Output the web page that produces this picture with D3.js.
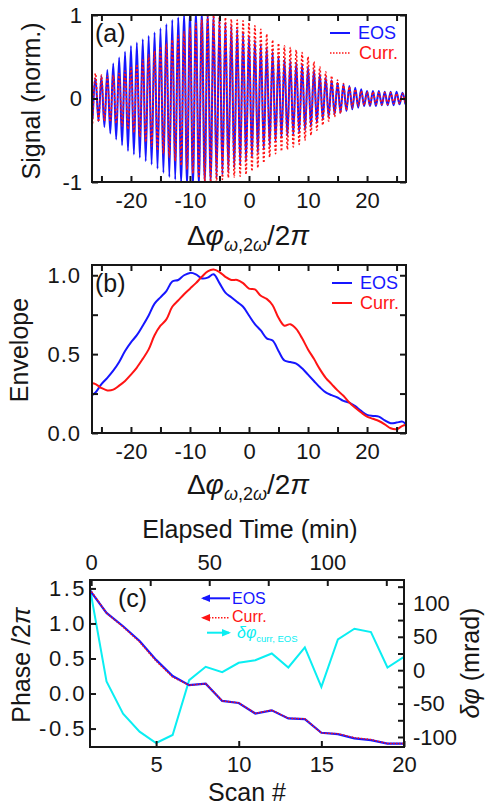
<!DOCTYPE html>
<html>
<head>
<meta charset="utf-8">
<script src="https://cdn.jsdelivr.net/npm/d3@7"></script>
<style>
  html, body { margin: 0; padding: 0; background: #fff; }
  svg { display: block; }
</style>
</head>
<body>
<svg id="fig" width="486" height="811"></svg>
<script>
// ---------- data ----------
// fringe index (Δφ_{ω,2ω}/2π) at which amplitudes are sampled
const fringeX = [-26,-25,-24,-23,-22,-21,-20,-19,-18,-17,-16,-15,-14,-13,-12,-11,-10,
  -9,-8,-7,-6,-5,-4,-3,-2,-1,0,1,2,3,4,5,6,7,8,9,10,11,12,13,14,15,16,17,18,19,20,21,22,23,24,25,26];

// (a) fringe peak amplitudes, normalised signal
const ampEOS = [0.24,0.27,0.34,0.42,0.49,0.56,0.63,0.67,0.71,0.75,0.79,0.84,0.89,0.94,0.97,1.00,1.03,
  1.04,1.03,1.00,0.99,0.95,0.91,0.87,0.83,0.79,0.75,
  0.70,0.65,0.61,0.56,0.51,0.47,0.45,0.43,0.41,0.38,0.34,0.29,0.25,0.22,0.19,0.17,0.15,0.13,0.11,0.09,0.09,0.09,0.08,0.08,0.08,0.07];
const ampCurr = [0.30,0.28,0.27,0.28,0.30,0.33,0.37,0.41,0.46,0.52,0.57,0.62,0.66,0.70,0.75,0.80,0.85,
  0.90,0.95,0.99,1.00,1.00,0.97,0.95,0.94,0.93,0.91,
  0.87,0.83,0.77,0.70,0.66,0.63,0.61,0.58,0.55,0.50,0.44,0.38,0.32,0.27,0.22,0.18,0.14,0.11,0.09,0.08,0.08,0.07,0.07,0.07,0.06,0.06];

// (b) envelopes, sampled at the plot edges and at each fringe
const envX = [-26.6].concat(fringeX, [26.6]);
const envEOS = [0.24,0.257,0.31,0.35,0.395,0.45,0.52,0.575,0.62,0.68,0.745,0.82,0.86,0.90,0.96,0.97,1.0,1.015,
  1.006,0.98,0.985,1.006,0.95,0.89,0.86,0.83,0.80,0.745,
  0.69,0.65,0.60,0.586,0.52,0.46,0.45,0.44,0.41,0.37,0.33,0.29,0.257,0.24,0.225,0.204,0.193,0.17,0.14,0.115,0.108,0.104,0.08,0.062,0.066,0.072,0.055];
const envCurr = [0.315,0.31,0.285,0.27,0.275,0.30,0.33,0.37,0.415,0.47,0.53,0.62,0.68,0.72,0.80,0.84,0.88,0.915,
  0.95,0.99,1.025,1.036,1.02,0.99,0.97,0.97,0.95,0.915,
  0.91,0.87,0.85,0.81,0.73,0.68,0.69,0.66,0.60,0.53,0.47,0.405,0.35,0.31,0.27,0.236,0.193,0.16,0.13,0.104,0.09,0.076,0.055,0.03,0.024,0.045,0.05];

// (c) scan-by-scan phases and their difference
const scans = [1,2,3,4,5,6,7,8,9,10,11,12,13,14,15,16,17,18,19,20];
const phaseEOS  = [1.47,1.15,0.96,0.75,0.48,0.25,0.12,0.14,-0.105,-0.135,-0.285,-0.24,-0.355,-0.365,-0.56,-0.58,-0.64,-0.665,-0.715,-0.715];
const phaseCurr = [1.49,1.147,0.95,0.735,0.463,0.235,0.118,0.141,-0.105,-0.133,-0.283,-0.236,-0.354,-0.36,-0.564,-0.573,-0.63,-0.656,-0.714,-0.712];
const dPhi = [122,-17,-65,-92,-109,-97,-15,5,-3,11,15,25,4,34,-25,46,62,57,4,20];

// tick values
const fringeTicks = [-25,-20,-15,-10,-5,0,5,10,15,20,25];
const signalTicks = [-1,0,1];
const envTicks = [0,0.25,0.5,0.75,1.0];
const scanTicks = [5,10,15,20];
const timeTicks = [0,25,50,75,100,125];
const phaseTicks = [-0.5,0,0.5,1.0,1.5];
const mradTicks = [-100,-75,-50,-25,0,25,50,75,100,125];

// ---------- styling ----------
const FONT = "'Liberation Sans', Arial, Helvetica, sans-serif";
const INK = "#161616";
const BLUE = "#1616ff", RED = "#ff1414", CYAN = "#0aeef2";
const TICK_FS = 22, TITLE_FS = 25;

const svg = d3.select("#fig").attr("font-family", FONT);

const PA = {l: 92, r: 406, t: 15, b: 182};
const PB = {l: 92, r: 406, t: 265, b: 433};
const PC = {l: 90, r: 404, t: 580, b: 747};

const xA = d3.scaleLinear([-26.6, 26.6], [PA.l, PA.r]);
const yA = d3.scaleLinear([-1, 1], [PA.b, PA.t]);
const xB = d3.scaleLinear([-26.6, 26.6], [PB.l, PB.r]);
const yB = d3.scaleLinear([0, 1.065], [PB.b, PB.t]);
const xC = d3.scaleLinear([1, 20], [PC.l, PC.r]);
const xCtop = d3.scaleLinear([-0.5, 132.5], [PC.l, PC.r]);
const yC = d3.scaleLinear([-0.763, 1.62], [PC.b, PC.t]);
const yCr = d3.scaleLinear([-115, 135], [PC.b, PC.t]);

const fmtInt = d => String(d);
const fmtDec = d => d3.format(".1f")(d).replace("−", "-");

function styleAxis(g, fs, spacing) {
  g.select(".domain").remove();
  g.selectAll(".tick line").attr("stroke", INK).attr("stroke-width", 2);
  g.selectAll(".tick text").attr("fill", INK).attr("font-size", fs).attr("font-family", FONT)
    .attr("letter-spacing", spacing || null);
}

function clip(id, P) {
  svg.append("clipPath").attr("id", id).append("rect")
    .attr("x", P.l).attr("y", P.t).attr("width", P.r - P.l).attr("height", P.b - P.t);
}

function frame(P) {
  svg.append("rect").attr("x", P.l).attr("y", P.t).attr("width", P.r - P.l).attr("height", P.b - P.t)
    .attr("fill", "none").attr("stroke", INK).attr("stroke-width", 2);
}

function fringeAxes(P, x, yAxis, yTicks, yFmt, yPad, ySpacing) {
  svg.append("g").attr("transform", `translate(0,${P.b})`)
    .call(d3.axisBottom(x).tickValues(fringeTicks).tickSize(-6).tickPadding(10)
      .tickFormat(d => d % 10 === 0 ? fmtInt(d) : ""))
    .call(g => styleAxis(g, TICK_FS));
  svg.append("g").attr("transform", `translate(0,${P.t})`)
    .call(d3.axisTop(x).tickValues(fringeTicks).tickSize(-6).tickFormat(""))
    .call(g => styleAxis(g, TICK_FS));
  svg.append("g").attr("transform", `translate(${P.l},0)`)
    .call(d3.axisLeft(yAxis).tickValues(yTicks).tickSize(-6).tickPadding(yPad).tickFormat(yFmt))
    .call(g => styleAxis(g, TICK_FS, ySpacing));
  svg.append("g").attr("transform", `translate(${P.r},0)`)
    .call(d3.axisRight(yAxis).tickValues(yTicks).tickSize(-6).tickFormat(""))
    .call(g => styleAxis(g, TICK_FS));
}

// Δφ_{ω,2ω}/2π axis title
function deltaPhiTitle(cx, baseline) {
  const t = svg.append("text").attr("x", cx).attr("y", baseline).attr("text-anchor", "middle")
    .attr("font-size", 28).attr("fill", INK);
  t.append("tspan").text("Δ");
  t.append("tspan").attr("font-style", "italic").text("φ");
  t.append("tspan").attr("font-size", 18).attr("dy", 6).attr("font-style", "italic").text("ω");
  t.append("tspan").attr("font-size", 18).text(",2");
  t.append("tspan").attr("font-size", 18).attr("font-style", "italic").text("ω");
  t.append("tspan").attr("dy", -6).text("/2");
  t.append("tspan").attr("font-style", "italic").text("π");
}

function vTitle(x, cy, parts) {
  const t = svg.append("text").attr("transform", `translate(${x},${cy}) rotate(-90)`)
    .attr("text-anchor", "middle").attr("font-size", TITLE_FS).attr("fill", INK);
  parts.forEach(p => t.append("tspan").attr("font-style", p.italic ? "italic" : null).text(p.s));
}

// ---------- panel (a): fringe signals ----------
clip("clipA", PA);
function fringePoints(amps) {
  const pts = [];
  fringeX.forEach((x, i) => {
    pts.push([x - 0.5, -amps[i]]);
    pts.push([x, amps[i]]);
  });
  pts.push([fringeX[fringeX.length - 1] + 0.5, -amps[amps.length - 1]]);
  return pts;
}
const lineA = d3.line().x(d => xA(d[0])).y(d => yA(d[1])).curve(d3.curveMonotoneX);
const gA = svg.append("g").attr("clip-path", "url(#clipA)");
gA.append("path").attr("d", lineA(fringePoints(ampEOS)))
  .attr("fill", "none").attr("stroke", BLUE).attr("stroke-width", 2);
gA.append("path").attr("d", lineA(fringePoints(ampCurr)))
  .attr("fill", "none").attr("stroke", RED).attr("stroke-width", 1.6).attr("stroke-dasharray", "2,2");

fringeAxes(PA, xA, yA, signalTicks, fmtInt, 10);
frame(PA);
svg.append("text").attr("x", 95).attr("y", 42).attr("font-size", 25).attr("fill", INK).text("(a)");
// legend (a)
svg.append("line").attr("x1", 330).attr("x2", 350).attr("y1", 33).attr("y2", 33)
  .attr("stroke", BLUE).attr("stroke-width", 2);
svg.append("text").attr("x", 358).attr("y", 39).attr("font-size", 18).attr("fill", BLUE).text("EOS");
svg.append("line").attr("x1", 330).attr("x2", 350).attr("y1", 53).attr("y2", 53)
  .attr("stroke", RED).attr("stroke-width", 1.6).attr("stroke-dasharray", "1.5,1.5");
svg.append("text").attr("x", 359).attr("y", 59).attr("font-size", 18).attr("fill", RED).text("Curr.");
vTitle(40, 101, [{s: "Signal (norm.)"}]);
deltaPhiTitle(248, 245);

// ---------- panel (b): envelopes ----------
clip("clipB", PB);
const lineB = d3.line().x((d, i) => xB(envX[i])).y(d => yB(d)).curve(d3.curveCatmullRom.alpha(0.5));
const gB = svg.append("g").attr("clip-path", "url(#clipB)");
gB.append("path").attr("d", lineB(envEOS)).attr("fill", "none").attr("stroke", BLUE).attr("stroke-width", 2);
gB.append("path").attr("d", lineB(envCurr)).attr("fill", "none").attr("stroke", RED).attr("stroke-width", 2);

fringeAxes(PB, xB, yB, envTicks, d => (d * 2) % 1 === 0 ? fmtDec(d) : "", 11, 1);
frame(PB);
svg.append("text").attr("x", 95).attr("y", 292).attr("font-size", 25).attr("fill", INK).text("(b)");
svg.append("line").attr("x1", 332).attr("x2", 352).attr("y1", 283).attr("y2", 283)
  .attr("stroke", BLUE).attr("stroke-width", 2);
svg.append("text").attr("x", 360).attr("y", 289).attr("font-size", 18).attr("fill", BLUE).text("EOS");
svg.append("line").attr("x1", 332).attr("x2", 352).attr("y1", 303).attr("y2", 303)
  .attr("stroke", RED).attr("stroke-width", 2);
svg.append("text").attr("x", 360).attr("y", 309).attr("font-size", 18).attr("fill", RED).text("Curr.");
vTitle(28, 350, [{s: "Envelope"}]);
deltaPhiTitle(248, 494);

// ---------- panel (c): phase drift over scans ----------
clip("clipC", PC);
const gC = svg.append("g").attr("clip-path", "url(#clipC)");
const lineC = d3.line().x((d, i) => xC(scans[i])).y(d => yC(d));
const lineCr = d3.line().x((d, i) => xC(scans[i])).y(d => yCr(d));
gC.append("path").attr("d", lineCr(dPhi)).attr("fill", "none").attr("stroke", CYAN).attr("stroke-width", 2);
gC.append("path").attr("d", lineC(phaseEOS)).attr("fill", "none").attr("stroke", BLUE).attr("stroke-width", 2.2);
gC.append("path").attr("d", lineC(phaseCurr)).attr("fill", "none").attr("stroke", RED)
  .attr("stroke-width", 1.4).attr("stroke-dasharray", "1.5,1.5");

svg.append("g").attr("transform", `translate(0,${PC.b})`)
  .call(d3.axisBottom(xC).tickValues(scanTicks).tickSize(-6).tickPadding(9).tickFormat(fmtInt))
  .call(g => styleAxis(g, TICK_FS));
svg.append("g").attr("transform", `translate(0,${PC.t})`)
  .call(d3.axisTop(xCtop).tickValues(timeTicks).tickSize(-6).tickPadding(10)
    .tickFormat(d => d % 50 === 0 ? fmtInt(d) : ""))
  .call(g => styleAxis(g, TICK_FS));
svg.append("g").attr("transform", `translate(${PC.l},0)`)
  .call(d3.axisLeft(yC).tickValues(phaseTicks).tickSize(-6).tickPadding(3).tickFormat(fmtDec))
  .call(g => styleAxis(g, TICK_FS, 2.5));
svg.append("g").attr("transform", `translate(${PC.r},0)`)
  .call(d3.axisRight(yCr).tickValues(mradTicks).tickSize(-6).tickPadding(9)
    .tickFormat(d => d % 50 === 0 ? fmtInt(d) : ""))
  .call(g => styleAxis(g, TICK_FS));
frame(PC);
svg.append("text").attr("x", 118).attr("y", 607).attr("font-size", 25).attr("fill", INK).text("(c)");

// legend (c): arrows show which axis each curve belongs to
function arrow(x1, x2, y, color, dashed, pointRight) {
  const tip = pointRight ? x2 + 2 : x1 - 2;
  const base = pointRight ? tip - 9 : tip + 9;
  svg.append("line").attr("x1", x1).attr("x2", x2).attr("y1", y).attr("y2", y)
    .attr("stroke", color).attr("stroke-width", dashed ? 1.6 : 2)
    .attr("stroke-dasharray", dashed ? "1.5,1.5" : null);
  svg.append("path").attr("d", `M${tip},${y}L${base},${y - 3.8}L${base},${y + 3.8}Z`).attr("fill", color);
}
arrow(203, 230, 598.3, BLUE, false, false);
svg.append("text").attr("x", 232).attr("y", 604).attr("font-size", 16).attr("fill", BLUE).text("EOS");
arrow(203, 230, 617.7, RED, true, false);
svg.append("text").attr("x", 232).attr("y", 621.7).attr("font-size", 16).attr("fill", RED).text("Curr.");
arrow(207, 229, 632.7, CYAN, false, true);
const lc = svg.append("text").attr("x", 237).attr("y", 637.5).attr("font-size", 16).attr("fill", CYAN);
lc.append("tspan").attr("font-style", "italic").text("δφ");
lc.append("tspan").attr("font-size", 9.5).attr("dy", 4).text("curr, EOS");

svg.append("text").attr("x", 250).attr("y", 538).attr("text-anchor", "middle")
  .attr("font-size", TITLE_FS).attr("fill", INK).text("Elapsed Time (min)");
svg.append("text").attr("x", 247).attr("y", 801).attr("text-anchor", "middle")
  .attr("font-size", TITLE_FS).attr("fill", INK).text("Scan #");
vTitle(30, 665, [{s: "Phase /2"}, {s: "π", italic: true}]);
vTitle(479, 663, [{s: "δφ", italic: true}, {s: " (mrad)"}]);
</script>
</body>
</html>
